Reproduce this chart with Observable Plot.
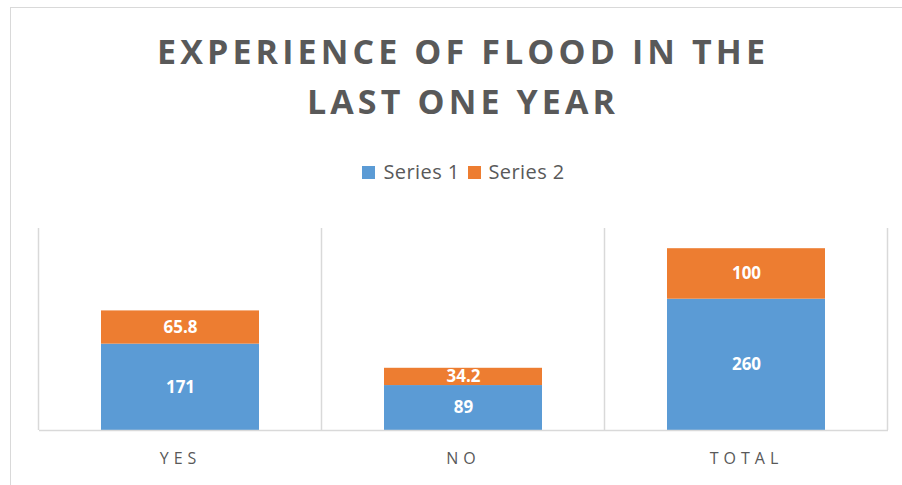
<!DOCTYPE html>
<html>
<head>
<meta charset="utf-8">
<script src="https://cdn.jsdelivr.net/npm/d3@7"></script>
<script src="https://cdn.jsdelivr.net/npm/@observablehq/plot@0.6"></script>
<style>
  html, body { margin: 0; padding: 0; background: #fff; width: 902px; height: 485px; overflow: hidden; font-family: "Open Sans", sans-serif; }
  #frame { position: absolute; left: 10px; top: 7px; width: 940px; height: 520px; border: 1.5px solid #d9d9d9; box-sizing: border-box; }
  .title { position: absolute; left: 0; width: 922px; text-align: center; font-weight: bold; font-size: 34px; line-height: 34px; color: #595959; white-space: nowrap; }
  #legend { position: absolute; left: 0; width: 927px; top: 161px; display: flex; justify-content: center; align-items: center; font-size: 20px; line-height: 22px; letter-spacing: 0.4px; color: #595959; }
  .sw { display: inline-block; width: 13px; height: 13px; margin-right: 8px; }
  .item { display: flex; align-items: center; margin: 0 4px; }
  #chart { position: absolute; left: 0; top: 210px; }
  #chart g[aria-label="x-axis"] text, #chart g[aria-label="x-axis tick label"] text { letter-spacing: 5px; }
</style>
</head>
<body>
<div id="frame"></div>
<div class="title" id="t1" style="top:34px">EXPERIENCE OF FLOOD IN THE</div>
<div class="title" id="t2" style="top:84px">LAST ONE YEAR</div>
<div id="legend"></div>
<div id="chart"></div>
<script>
const categories = ["YES", "NO", "TOTAL"];
const seriesNames = ["Series 1", "Series 2"];
const series1 = [171, 89, 260];
const series2 = [65.8, 34.2, 100];
const seriesColors = ["#5B9BD5", "#ED7D31"];
const yMax = 400;

const data = categories.flatMap((c, i) => [
  {cat: c, series: seriesNames[0], value: series1[i]},
  {cat: c, series: seriesNames[1], value: series2[i]}
]);

// Title letter-spacing fitted to the reference width
(function () {
  const ctx = document.createElement("canvas").getContext("2d");
  ctx.font = "bold 34px 'Open Sans'";
  const txt = "EXPERIENCE OF FLOOD IN THE";
  const w = ctx.measureText(txt).width;
  const ls = Math.max(0, (608 - w) / (txt.length - 1));
  for (const id of ["t1", "t2"]) {
    const el = document.getElementById(id);
    el.style.letterSpacing = ls + "px";
    el.style.paddingLeft = ls + "px";
    el.style.boxSizing = "border-box";
  }
})();

// Legend
const legend = document.getElementById("legend");
seriesNames.forEach((s, i) => {
  const item = document.createElement("span");
  item.className = "item";
  const sw = document.createElement("span");
  sw.className = "sw";
  sw.style.background = seriesColors[i];
  item.appendChild(sw);
  item.appendChild(document.createTextNode(s));
  legend.appendChild(item);
});

// Category separators drawn from the x band scale
function separators(index, scales, values, dimensions) {
  const x = scales.x, y = scales.y;
  const g = d3.create("svg:g").attr("aria-label", "separators");
  const inner = dimensions.width - dimensions.marginLeft - dimensions.marginRight;
  const step = (x && typeof x.step === "function") ? x.step() : inner / categories.length;
  const bw = (x && typeof x.bandwidth === "function") ? x.bandwidth() : step * 0.56;
  const pos = categories.map(c => x(c) + bw / 2 - step / 2);
  pos.push(pos[pos.length - 1] + step);
  g.selectAll("line").data(pos).join("line")
    .attr("x1", d => d).attr("x2", d => d)
    .attr("y1", y(0)).attr("y2", y(yMax))
    .attr("stroke", "#d9d9d9").attr("stroke-width", 1.5);
  return g.node();
}

const chart = Plot.plot({
  width: 902,
  height: 275,
  marginTop: 18,
  marginBottom: 55,
  marginLeft: 39,
  marginRight: 14,
  style: {fontFamily: "'Open Sans', sans-serif", fontSize: "16px", color: "#595959", background: "transparent", overflow: "visible"},
  x: {domain: categories, paddingInner: 0.44, paddingOuter: 0.22, label: null, tickSize: 0, tickPadding: 22},
  y: {domain: [0, yMax], axis: null},
  color: {domain: seriesNames, range: seriesColors},
  marks: [
    separators,
    Plot.barY(data, {x: "cat", y: "value", fill: "series", z: "series"}),
    Plot.ruleY([0], {stroke: "#d9d9d9", strokeWidth: 1.5}),
    Plot.text(data, Plot.stackY({x: "cat", y: "value", z: "series", text: d => String(d.value), fill: "white", fontWeight: "bold", fontSize: 17}))
  ]
});
document.getElementById("chart").appendChild(chart);
</script>
</body>
</html>
